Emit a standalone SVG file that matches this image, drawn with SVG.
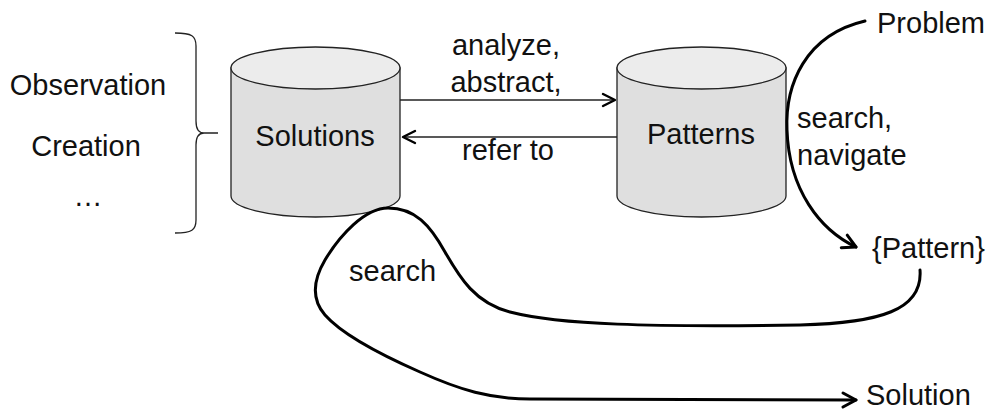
<svg xmlns="http://www.w3.org/2000/svg" width="988" height="412" viewBox="0 0 988 412">
  <style>
    text { font-family: "Liberation Sans", Arial, sans-serif; font-size: 29px; fill: #111; }
    .mid { text-anchor: middle; }
    .body { fill: #dfdfdf; stroke: #222; stroke-width: 1.3; }
    .lid { fill: #ececec; stroke: #222; stroke-width: 1.3; }
    .thin { fill: none; stroke: #222; stroke-width: 1.3; }
    .thick { fill: none; stroke: #000; stroke-width: 3; stroke-linecap: round; stroke-linejoin: round; }
  </style>
  <defs>
    <marker id="headThin" markerUnits="userSpaceOnUse" viewBox="-14 -8 16 16" refX="0" refY="0" markerWidth="16" markerHeight="16" orient="auto" overflow="visible">
      <path d="M-12,-6 L0,0 L-12,6" fill="none" stroke="#000" stroke-width="2.4" stroke-linejoin="round" stroke-linecap="round"/>
    </marker>
    <marker id="headThick" markerUnits="userSpaceOnUse" viewBox="-16 -10 18 20" refX="0" refY="0" markerWidth="18" markerHeight="20" orient="auto" overflow="visible">
      <path d="M-13,-7 L0,0 L-13,7" fill="none" stroke="#000" stroke-width="3" stroke-linejoin="round" stroke-linecap="round"/>
    </marker>
  </defs>

  <!-- sources feeding the solution store -->
  <g id="sources">
    <text class="mid" x="88" y="95">Observation</text>
    <text class="mid" x="86" y="156">Creation</text>
    <text class="mid" x="88" y="206">…</text>
    <path class="thin" d="M175,33 C192,33 196,36 196,46 L196,121 C196,129 198,133 204,133 C198,133 196,137 196,145 L196,220 C196,230 192,233 175,233 M204,133 L218,133"/>
  </g>

  <!-- solution store -->
  <g id="solutions">
    <path class="body" d="M231,68 L231,196 A84.5,21 0 0 0 400,196 L400,68 Z"/>
    <ellipse class="lid" cx="315.5" cy="68" rx="84.5" ry="21"/>
    <text class="mid" x="315" y="146">Solutions</text>
  </g>

  <!-- pattern store -->
  <g id="patterns">
    <path class="body" d="M617,68 L617,196 A84.5,21 0 0 0 786,196 L786,68 Z"/>
    <ellipse class="lid" cx="701.5" cy="68" rx="84.5" ry="21"/>
    <text class="mid" x="701" y="144">Patterns</text>
  </g>

  <g id="problem"><text x="877" y="33">Problem</text></g>
  <g id="pattern-set"><text x="872" y="258">{Pattern}</text></g>
  <g id="solution"><text x="866" y="405">Solution</text></g>

  <!-- connectors -->
  <g id="connectors">
    <path class="thin" d="M400,100 L615,100" marker-end="url(#headThin)"/>
    <path class="thin" d="M617,137 L403,137" marker-end="url(#headThin)"/>
    <path class="thick" d="M865,21 C805,35 785,85 787,130 C789,190 820,230 856,247" marker-end="url(#headThick)"/>
    <path class="thick" d="M920,270 C923,310 880,323 800,325 C650,327 560,325 510,312 C475,303 460,278 445,252 C430,225 415,208 388,208 C365,208 340,235 325,260 C312,282 312,300 325,315 C340,332 370,350 420,372 C460,390 490,399 530,399 L856,400" marker-end="url(#headThick)"/>
  </g>

  <!-- connector labels -->
  <g id="labels">
    <text class="mid" x="506" y="55">analyze,</text>
    <text class="mid" x="506" y="92">abstract,</text>
    <text class="mid" x="508" y="160">refer to</text>
    <text x="797" y="128">search,</text>
    <text x="797" y="165">navigate</text>
    <text x="349" y="281">search</text>
  </g>
</svg>
